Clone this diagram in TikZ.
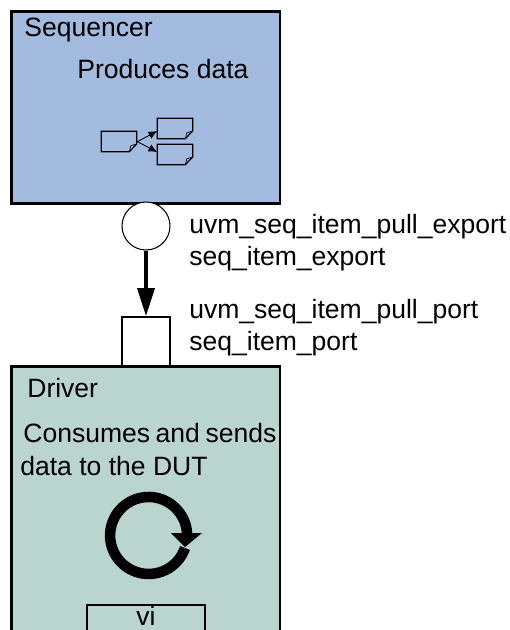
\documentclass[tikz,border=0pt]{standalone}
\usepackage{fontspec}
\setmainfont{Liberation Sans}
\usetikzlibrary{arrows.meta}
\definecolor{seqblue}{HTML}{A4BBE0}
\definecolor{drvteal}{HTML}{BAD4D0}
\tikzset{
  block/.style={draw, line width=1.7pt, rectangle, inner sep=0pt},
  txt/.style={inner sep=0pt, align=left, font=\fontsize{15.1}{18.1}\selectfont},
  docitem/.style={rectangle, minimum width=0.708cm, minimum height=0.4cm, inner sep=0pt},
  flow/.style={-{Latex[length=5pt, width=4.5pt]}, line width=0.5pt}
}
\begin{document}
\begin{tikzpicture}[x=0.02cm, y=-0.02cm]
  \useasboundingbox (0, 0) rectangle (510, 630);
  \clip (0, 0) rectangle (510, 630);

  % sequencer
  \draw[block, fill=seqblue] (11.5, 11.5) rectangle (280, 203);
  \node[txt, anchor=base west] (seqname) at (24, 36.3) {Sequencer};
  \node[txt, anchor=base west] (seqtext) at (77, 78.8) {Produces data};

  % items
  \foreach \name/\x/\y in {itema/101.3/131.3, itemb/157.3/118.3, itemc/157.3/144.3} {
    \node[docitem, anchor=north west] (\name) at (\x, \y) {};
    \draw[line width=0.7pt] (\x, \y) -- ++(35.4, 0) -- ++(0, 12.7) -- ++(-7.4, 7.7) -- ++(-28, 0) -- cycle;
    \draw[line width=0.4pt] (\x+28, \y+20.4) -- ++(1.6, -6) -- ++(5.8, -1.7);
  }
  \draw[flow] (itema.east) -- ([yshift=-0.048cm]itemb.west);
  \draw[flow] (itema.east) -- ([yshift=0.052cm]itemc.west);

  % ports
  \node[circle, draw, line width=0.6pt, fill=white, minimum size=0.96cm, inner sep=0pt] (export) at (146, 226) {};
  \node[rectangle, draw, line width=1pt, fill=white, minimum width=0.96cm, minimum height=0.98cm, inner sep=0pt] (port) at (146, 341.5) {};
  \draw[-{Triangle[length=0.56cm, width=0.34cm]}, line width=2pt] (export) -- (port);
  \node[txt, anchor=base west] (exportname) at (189, 233.8) {uvm\_seq\_item\_pull\_export};
  \node[txt, anchor=base west] (exportvar) at (189, 265.8) {seq\_item\_export};
  \node[txt, anchor=base west] (portname) at (189, 318.8) {uvm\_seq\_item\_pull\_port};
  \node[txt, anchor=base west] (portvar) at (189, 350.8) {seq\_item\_port};

  % driver
  \draw[block, fill=drvteal] (11.5, 366) rectangle (280, 650);
  \node[txt, anchor=base west] (drvname) at (27, 397.8) {Driver};
  \node[txt, anchor=base west] (drvtexta) at (23, 442.8) {Consumes\hspace{-1pt} and\hspace{-1pt} sends};
  \node[txt, anchor=base west] (drvtextb) at (20, 475.8) {data to the DUT};

  % loop
  \draw[line width=0.21cm] (185, 548) arc (19:360:38.5 and 38.5);
  \fill (171, 533) -- (202, 533) -- (185, 547) -- cycle;

  % vi
  \node[rectangle, draw, line width=1.2pt, minimum width=2.36cm, minimum height=1cm, anchor=north, inner sep=0pt] (vibox) at (146, 603.5) {};
  \node[txt, anchor=base] (viname) at (146, 625) {vi};
\end{tikzpicture}
\end{document}
